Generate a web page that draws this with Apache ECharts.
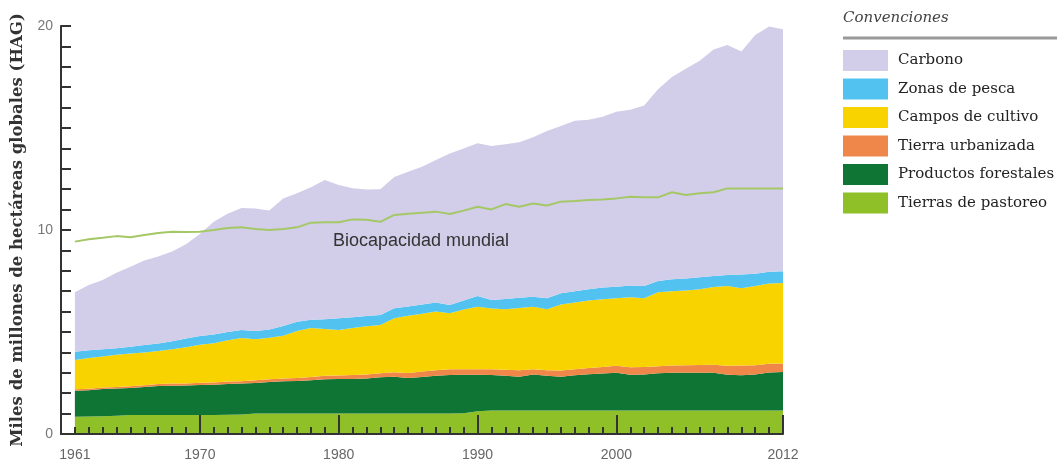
<!DOCTYPE html>
<html>
<head>
<meta charset="utf-8">
<script src="https://cdn.jsdelivr.net/npm/echarts@6/dist/echarts.min.js"></script>
<style>
  html, body { margin: 0; padding: 0; background: #fff; }
  #chart { width: 1057px; height: 466px; }
</style>
</head>
<body>
<div id="chart"></div>
<script>
// años 1961-2012 (el eje arranca en 1960, sin dato)
const years = []
for (let y = 1961; y <= 2012; y++) years.push(y)

// huella ecológica por componente (miles de millones de HAG)
const pastoreo = [0.85, 0.86, 0.87, 0.9, 0.93, 0.93, 0.93, 0.93, 0.93, 0.93, 0.93, 0.94, 0.96, 1.0, 1.0, 1.0, 1.0, 1.0, 1.0, 1.0, 1.0, 1.0, 1.0, 1.0, 1.0, 1.0, 1.0, 1.0, 1.02, 1.12, 1.15, 1.15, 1.15, 1.15, 1.15, 1.15, 1.15, 1.15, 1.15, 1.15, 1.15, 1.15, 1.15, 1.15, 1.15, 1.15, 1.15, 1.15, 1.15, 1.15, 1.15, 1.15]
const forestales = [1.27, 1.29, 1.33, 1.33, 1.32, 1.37, 1.42, 1.44, 1.45, 1.47, 1.49, 1.51, 1.51, 1.5, 1.55, 1.58, 1.6, 1.63, 1.68, 1.69, 1.7, 1.72, 1.78, 1.81, 1.74, 1.8, 1.85, 1.89, 1.88, 1.78, 1.74, 1.7, 1.66, 1.77, 1.71, 1.66, 1.73, 1.78, 1.82, 1.85, 1.75, 1.77, 1.83, 1.85, 1.85, 1.85, 1.85, 1.75, 1.73, 1.77, 1.87, 1.89]
const urbana = [0.07, 0.07, 0.08, 0.08, 0.09, 0.09, 0.1, 0.1, 0.1, 0.11, 0.11, 0.12, 0.12, 0.13, 0.13, 0.14, 0.15, 0.16, 0.17, 0.18, 0.19, 0.2, 0.2, 0.22, 0.25, 0.26, 0.27, 0.28, 0.28, 0.27, 0.28, 0.3, 0.32, 0.25, 0.27, 0.3, 0.3, 0.3, 0.32, 0.35, 0.37, 0.36, 0.34, 0.36, 0.37, 0.38, 0.4, 0.45, 0.48, 0.45, 0.42, 0.42]
const cultivo = [1.44, 1.5, 1.52, 1.57, 1.61, 1.61, 1.62, 1.68, 1.77, 1.87, 1.92, 2.03, 2.11, 2.01, 2.04, 2.1, 2.3, 2.41, 2.3, 2.23, 2.31, 2.36, 2.36, 2.64, 2.81, 2.84, 2.88, 2.75, 2.92, 3.07, 2.98, 2.97, 3.05, 3.07, 2.99, 3.24, 3.27, 3.32, 3.31, 3.3, 3.43, 3.37, 3.63, 3.64, 3.66, 3.72, 3.8, 3.9, 3.78, 3.88, 3.94, 3.94]
const pesca = [0.4, 0.38, 0.35, 0.32, 0.33, 0.36, 0.37, 0.4, 0.43, 0.42, 0.43, 0.4, 0.4, 0.41, 0.4, 0.47, 0.45, 0.4, 0.47, 0.57, 0.52, 0.5, 0.49, 0.49, 0.45, 0.45, 0.44, 0.4, 0.45, 0.52, 0.42, 0.5, 0.5, 0.49, 0.53, 0.55, 0.55, 0.55, 0.58, 0.57, 0.58, 0.6, 0.55, 0.58, 0.59, 0.58, 0.55, 0.54, 0.68, 0.61, 0.57, 0.58]
const carbono = [2.92, 3.2, 3.4, 3.7, 3.92, 4.14, 4.26, 4.4, 4.62, 5.0, 5.52, 5.8, 5.98, 6.0, 5.83, 6.26, 6.3, 6.5, 6.83, 6.53, 6.33, 6.2, 6.17, 6.44, 6.6, 6.75, 6.99, 7.43, 7.45, 7.49, 7.55, 7.58, 7.62, 7.82, 8.2, 8.2, 8.35, 8.3, 8.37, 8.58, 8.62, 8.85, 9.4, 9.92, 10.28, 10.62, 11.1, 11.28, 10.93, 11.7, 12.02, 11.86]
const biocapacidad = [9.43, 9.55, 9.62, 9.7, 9.65, 9.75, 9.85, 9.92, 9.9, 9.92, 10.0, 10.1, 10.13, 10.05, 10.0, 10.05, 10.13, 10.36, 10.38, 10.38, 10.52, 10.5, 10.4, 10.74, 10.8, 10.85, 10.9, 10.78, 10.95, 11.14, 11.01, 11.27, 11.14, 11.3, 11.2, 11.39, 11.42, 11.47, 11.5, 11.55, 11.63, 11.6, 11.6, 11.85, 11.72, 11.8, 11.85, 12.04, 12.04, 12.04, 12.04, 12.04]

const xLabels = [1961, 1970, 1980, 1990, 2000, 2012]
const xMajorTicks = [1970, 1980, 1990, 2000, 2012]
const yLabels = [0, 10, 20]

const capas = [
  { name: 'Tierras de pastoreo', data: pastoreo, color: '#8fc027' },
  { name: 'Productos forestales', data: forestales, color: '#0f7534' },
  { name: 'Tierra urbanizada', data: urbana, color: '#f0874a' },
  { name: 'Campos de cultivo', data: cultivo, color: '#f8d300' },
  { name: 'Zonas de pesca', data: pesca, color: '#52c3f1' },
  { name: 'Carbono', data: carbono, color: '#d2cde9' }
]

const serif = '"DejaVu Serif", serif'
const sans = 'Arial, "Liberation Sans", sans-serif'
const axisColor = '#333'
const gridBox = { left: 61, right: 274, top: 26, bottom: 32 }
const categorias = [1960].concat(years).map(String)

const series = capas.map(c => ({
  name: c.name,
  type: 'line',
  stack: 'huella',
  symbol: 'none',
  lineStyle: { width: 0 },
  itemStyle: { color: c.color },
  areaStyle: { color: c.color, opacity: 1 },
  data: [null].concat(c.data)
}))

series.push({
  name: 'Biocapacidad mundial',
  type: 'line',
  symbol: 'none',
  z: 5,
  lineStyle: { width: 2, color: '#a4c866' },
  data: [null].concat(biocapacidad)
})

const chart = echarts.init(document.getElementById('chart'))
chart.setOption({
  animation: false,
  grid: [gridBox, Object.assign({}, gridBox)],
  legend: {
    orient: 'vertical',
    left: 843,
    top: 50,
    padding: 0,
    icon: 'rect',
    itemWidth: 45,
    itemHeight: 21,
    itemGap: 7.5,
    data: capas.map(c => c.name).reverse(),
    textStyle: { fontFamily: serif, fontSize: 15, color: '#222', padding: [0, 0, 0, 5] }
  },
  xAxis: [
    {
      type: 'category',
      gridIndex: 0,
      data: categorias,
      boundaryGap: false,
      z: 10,
      axisLine: { lineStyle: { color: axisColor, width: 2 } },
      axisTick: { inside: true, length: 7, interval: 0, lineStyle: { color: axisColor, width: 2 } },
      axisLabel: {
        interval: (i, v) => xLabels.includes(+v),
        color: '#666',
        fontSize: 14,
        fontFamily: sans,
        margin: 14
      },
      splitLine: { show: false }
    },
    {
      type: 'category',
      gridIndex: 1,
      data: categorias,
      boundaryGap: false,
      z: 10,
      axisLine: { show: false },
      axisTick: {
        inside: true,
        length: 19,
        interval: (i, v) => xMajorTicks.includes(+v),
        lineStyle: { color: axisColor, width: 2 }
      },
      axisLabel: { show: false },
      splitLine: { show: false }
    }
  ],
  yAxis: [
    {
      type: 'value',
      gridIndex: 0,
      min: 0,
      max: 20,
      interval: 1,
      name: 'Miles de millones de hectáreas globales (HAG)',
      nameLocation: 'middle',
      nameRotate: 90,
      nameGap: 22,
      nameTextStyle: { fontFamily: serif, fontSize: 16.5, color: '#333', fontWeight: 'bold' },
      axisLine: { show: true, lineStyle: { color: axisColor, width: 2 } },
      axisTick: { show: true, inside: true, length: 10, lineStyle: { color: axisColor, width: 2 } },
      axisLabel: {
        color: '#777',
        fontSize: 14,
        fontFamily: sans,
        margin: 8,
        formatter: v => (yLabels.includes(v) ? String(v) : '')
      },
      splitLine: { show: false }
    },
    {
      type: 'value',
      gridIndex: 1,
      min: 0,
      max: 20,
      show: false
    }
  ],
  graphic: [
    {
      type: 'text',
      left: 843,
      top: 11,
      style: { text: 'Convenciones', font: 'italic 15px ' + serif, fill: '#444' }
    },
    {
      type: 'line',
      shape: { x1: 843, y1: 38, x2: 1057, y2: 38 },
      style: { stroke: '#999', lineWidth: 3 }
    },
    {
      type: 'text',
      left: 333,
      top: 232,
      z: 10,
      style: { text: 'Biocapacidad mundial', font: '18px ' + sans, fill: '#333' }
    }
  ],
  series
})
</script>
</body>
</html>
